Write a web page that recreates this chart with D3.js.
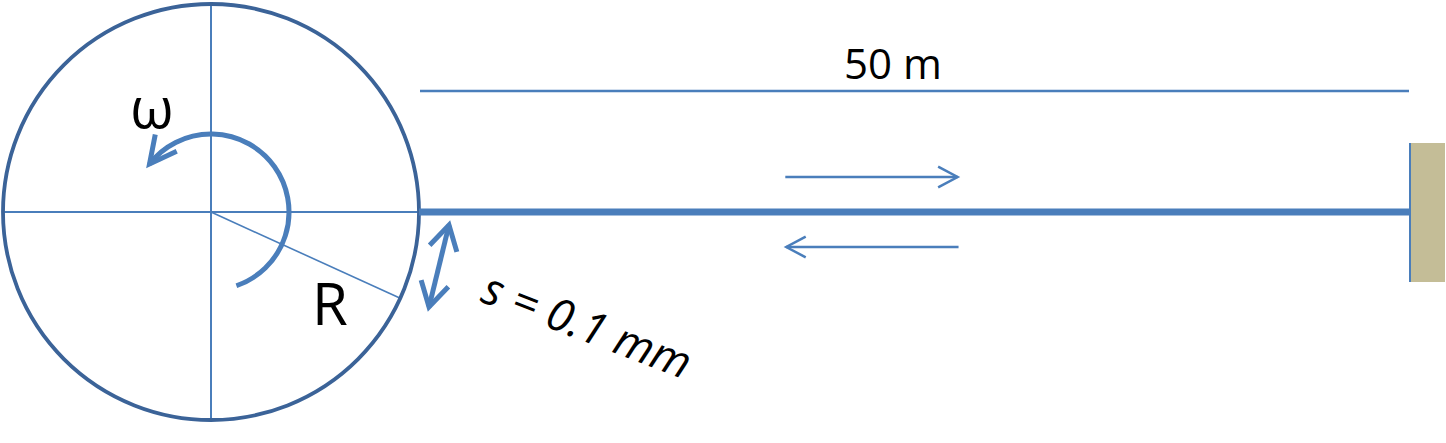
<!DOCTYPE html>
<meta charset="utf-8">
<style>
body { margin: 0; background: #fff; }
text { font-family: "Open Sans", sans-serif; fill: #000; }
.rope { stroke: #4a7ebb; fill: none; stroke-linecap: butt; }
</style>
<body>
<script src="https://cdn.jsdelivr.net/npm/d3@7"></script>
<script>

// drum + rope geometry (px) and labels
var drum = {cx: 211, cy: 212, r: 208};
var ropeMeters = [0, 50];            // rope runs from drum edge to the wall
var ropeSpan = [419, 1409];          // px range of the 50 m
var omegaArc = {r: 78, from: 71, to: -142};   // degrees, screen angles
var radiusAngle = 24.5;              // degrees, the R line
var flowArrows = [{from: 18.5, to: 27.2, y: 177}, {from: 27.25, to: 18.55, y: 247}]; // metres along rope
var gap = [[429, 307], [449, 225]];  // the s double arrow
var labels = ["\u03c9", "R", "50 m", "s = 0.1 mm"];

var width = 1446,
    height = 443;

var blue = "#4a7ebb",
    dark = "#3b6398";

var x = d3.scaleLinear().domain(ropeMeters).range(ropeSpan);

var svg = d3.select("body").append("svg")
    .attr("width", width)
    .attr("height", height);

var rad = Math.PI / 180;

// open arrowhead: tip point, unit direction of travel
function chevron(tip, dir, len, half) {
  var pts = [half, -half].map(function(a) {
    var c = Math.cos(a * rad), s = Math.sin(a * rad);
    var dx = dir[0] * c - dir[1] * s, dy = dir[0] * s + dir[1] * c;
    return [tip[0] - len * dx, tip[1] - len * dy];
  });
  return "M" + pts[0] + "L" + tip + "L" + pts[1];
}

// wall
svg.append("rect")
    .attr("x", x(50) + 1)
    .attr("y", 143)
    .attr("width", width - x(50) - 2)
    .attr("height", 139)
    .attr("fill", "#c4bd97");
svg.append("line")
    .attr("x1", x(50) + 1).attr("x2", x(50) + 1)
    .attr("y1", 143).attr("y2", 282)
    .attr("stroke", blue).attr("stroke-width", 2);

// crosshair
svg.append("line")
    .attr("x1", drum.cx - drum.r).attr("x2", drum.cx + drum.r)
    .attr("y1", drum.cy).attr("y2", drum.cy)
    .attr("stroke", blue).attr("stroke-width", 2);
svg.append("line")
    .attr("x1", drum.cx).attr("x2", drum.cx)
    .attr("y1", drum.cy - drum.r).attr("y2", drum.cy + drum.r)
    .attr("stroke", blue).attr("stroke-width", 2);

// radius line
svg.append("line")
    .attr("x1", drum.cx).attr("y1", drum.cy)
    .attr("x2", drum.cx + drum.r * Math.cos(radiusAngle * rad))
    .attr("y2", drum.cy + drum.r * Math.sin(radiusAngle * rad))
    .attr("stroke", blue).attr("stroke-width", 1.6);

// drum outline
svg.append("circle")
    .attr("cx", drum.cx).attr("cy", drum.cy).attr("r", drum.r)
    .attr("fill", "none")
    .attr("stroke", dark)
    .attr("stroke-width", 3.8);

// rotation arc with arrowhead
var p = d3.path();
p.arc(drum.cx, drum.cy, omegaArc.r, omegaArc.from * rad, omegaArc.to * rad, true);
svg.append("path")
    .attr("d", p.toString())
    .attr("class", "rope")
    .attr("stroke-width", 5);
var endA = omegaArc.to * rad;
var tip = [drum.cx + omegaArc.r * Math.cos(endA), drum.cy + omegaArc.r * Math.sin(endA)];
var tdir = [Math.sin(endA), -Math.cos(endA)];
svg.append("path")
    .attr("d", chevron(tip, tdir, 30, 27))
    .attr("class", "rope")
    .attr("stroke-width", 5)
    .attr("stroke-linejoin", "miter");

// rope
svg.append("line")
    .attr("x1", x(0)).attr("x2", x(50))
    .attr("y1", drum.cy).attr("y2", drum.cy)
    .attr("class", "rope")
    .attr("stroke-width", 7);

// 50 m dimension line
svg.append("line")
    .attr("x1", x(0) + 1).attr("x2", x(50))
    .attr("y1", 91).attr("y2", 91)
    .attr("class", "rope")
    .attr("stroke-width", 2.5);

// travel arrows
flowArrows.forEach(function(a) {
  var x0 = x(a.from), x1 = x(a.to), d = x1 > x0 ? 1 : -1;
  svg.append("line")
      .attr("x1", x0).attr("x2", x1)
      .attr("y1", a.y).attr("y2", a.y)
      .attr("class", "rope")
      .attr("stroke-width", 2.5);
  svg.append("path")
      .attr("d", chevron([x1, a.y], [d, 0], 22, 28))
      .attr("class", "rope")
      .attr("stroke-width", 2.5);
});

// s double arrow
var gl = Math.hypot(gap[1][0] - gap[0][0], gap[1][1] - gap[0][1]);
var gdir = [(gap[1][0] - gap[0][0]) / gl, (gap[1][1] - gap[0][1]) / gl];
svg.append("line")
    .attr("x1", gap[0][0]).attr("y1", gap[0][1])
    .attr("x2", gap[1][0]).attr("y2", gap[1][1])
    .attr("class", "rope")
    .attr("stroke-width", 5);
svg.append("path")
    .attr("d", chevron(gap[1], gdir, 28, 30))
    .attr("class", "rope")
    .attr("stroke-width", 5);
svg.append("path")
    .attr("d", chevron(gap[0], [-gdir[0], -gdir[1]], 28, 30))
    .attr("class", "rope")
    .attr("stroke-width", 5);

// labels
svg.append("text")
    .attr("x", 152).attr("y", 128)
    .attr("text-anchor", "middle")
    .style("font-size", "56px")
    .text(labels[0]);

svg.append("text")
    .attr("x", 312).attr("y", 325)
    .style("font-size", "58px")
    .text(labels[1]);

svg.append("text")
    .attr("x", 893).attr("y", 79)
    .attr("text-anchor", "middle")
    .style("font-size", "42px")
    .text(labels[2]);

svg.append("text")
    .attr("transform", "translate(479,301) rotate(21)")
    .style("font-size", "45px")
    .style("font-style", "italic")
    .text(labels[3]);

</script>
